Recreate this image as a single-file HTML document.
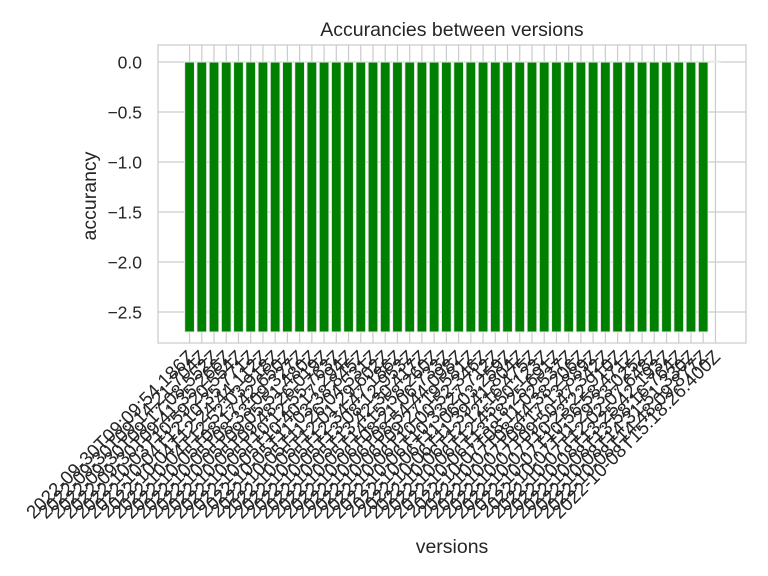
<!DOCTYPE html>
<html><head><meta charset="utf-8"><style>
body{margin:0;background:#fff}
svg{display:block;font-family:"Liberation Sans","DejaVu Sans",sans-serif}
</style></head><body>
<svg id="chart" width="768" height="576" xmlns="http://www.w3.org/2000/svg">
<rect width="768" height="576" fill="#fff"/>
<g id="grid"></g>
<g id="bars"></g>
<rect x="158" y="45" width="588" height="298" fill="none" stroke="#cccccc" stroke-width="1.25"/>
<g id="yticks"></g>
<g id="xticks"></g>
<text x="452" y="36" text-anchor="middle" font-size="19.5" fill="#262626">Accurancies between versions</text>
<text x="452" y="553" text-anchor="middle" font-size="19.5" fill="#262626">versions</text>
<text transform="translate(96,196) rotate(-90)" text-anchor="middle" font-size="19.5" fill="#262626">accurancy</text>
</svg>
<script>
const categories = ["2022-09-30T09:09:54.186Z","2022-09-30T09:14:21.704Z","2022-09-30T09:17:08.552Z","2022-09-30T09:41:35.266Z","2022-10-03T10:59:20.554Z","2022-10-04T12:10:35.771Z","2022-10-04T12:24:44.112Z","2022-10-04T12:52:03.918Z","2022-10-05T08:17:42.650Z","2022-10-05T08:33:09.327Z","2022-10-05T09:05:51.480Z","2022-10-05T09:48:26.019Z","2022-10-05T10:12:55.763Z","2022-10-05T10:40:17.294Z","2022-10-05T11:03:38.845Z","2022-10-05T11:26:04.531Z","2022-10-05T12:01:29.602Z","2022-10-05T12:34:47.186Z","2022-10-05T13:08:12.953Z","2022-10-05T13:42:30.417Z","2022-10-05T14:15:58.260Z","2022-10-06T08:21:06.733Z","2022-10-06T08:54:44.098Z","2022-10-06T09:27:19.581Z","2022-10-06T10:00:52.346Z","2022-10-06T10:33:27.712Z","2022-10-06T11:06:03.259Z","2022-10-06T11:39:41.804Z","2022-10-06T12:12:16.475Z","2022-10-06T12:45:50.123Z","2022-10-06T13:18:25.691Z","2022-10-07T08:11:02.537Z","2022-10-07T08:44:38.206Z","2022-10-07T09:17:13.889Z","2022-10-07T09:50:47.342Z","2022-10-07T10:23:22.910Z","2022-10-07T10:56:58.471Z","2022-10-07T11:29:33.025Z","2022-10-07T12:02:07.648Z","2022-10-08T13:25:42.193Z","2022-10-08T13:58:16.764Z","2022-10-08T14:31:51.330Z","2022-10-08T14:48:09.877Z","2022-10-08T15:18:26.400Z"];
const accuracies = [-2.7,-2.7,-2.7,-2.7,-2.7,-2.7,-2.7,-2.7,-2.7,-2.7,-2.7,-2.7,-2.7,-2.7,-2.7,-2.7,-2.7,-2.7,-2.7,-2.7,-2.7,-2.7,-2.7,-2.7,-2.7,-2.7,-2.7,-2.7,-2.7,-2.7,-2.7,-2.7,-2.7,-2.7,-2.7,-2.7,-2.7,-2.7,-2.7,-2.7,-2.7,-2.7,-2.7,0.01];
const yTickValues = [0,-0.5,-1,-1.5,-2,-2.5];
const yTickLabels = ["0.0","\u22120.5","\u22121.0","\u22121.5","\u22122.0","\u22122.5"];

const NS="http://www.w3.org/2000/svg";
const L=158,R=746,T=45,B=343;
const n=categories.length;
const xMin=-2.58, xMax=n-1+2.5;
const yMin=-2.81, yMax=0.17;
const xs=i=>L+(i-xMin)/(xMax-xMin)*(R-L);
const ys=v=>B-(v-yMin)/(yMax-yMin)*(B-T);
const step=xs(1)-xs(0);
function mk(tag,attrs,parent){const e=document.createElementNS(NS,tag);for(const k in attrs)e.setAttribute(k,attrs[k]);parent.appendChild(e);return e;}
const grid=document.getElementById('grid'),bars=document.getElementById('bars'),yt=document.getElementById('yticks'),xt=document.getElementById('xticks');
yTickValues.forEach((v,i)=>{
  const g=mk('line',{x1:L,x2:R,y1:ys(v),y2:ys(v),stroke:'#cccccc','stroke-width':1.25},grid);
  
  
  const t=mk('text',{x:L-16,y:ys(v)+6.3,'text-anchor':'end','font-size':'17.5','fill':'#262626'},yt);
  t.textContent=yTickLabels[i];
  
  
});
categories.forEach((c,i)=>{
  const x=xs(i);
  const g=mk('line',{x1:x,x2:x,y1:T,y2:B,stroke:'#cccccc','stroke-width':1.25},grid);
  
  
  const v=accuracies[i];
  const y0=ys(0),y1=ys(v);
  const w=step*0.8;
  const r=mk('rect',{x:x-w/2,y:Math.min(y0,y1),width:w,height:Math.max(Math.abs(y1-y0),0.8),fill:'#008000',stroke:'#eaeaea','stroke-width':1},bars);
  
  
  const t=mk('text',{x:0,y:0,'text-anchor':'end','font-size':'18.8',fill:'#262626',transform:`translate(${x+6},${B+15}) rotate(-45)`},xt);
  t.textContent=c;
  
  
});
</script>
</body></html>
